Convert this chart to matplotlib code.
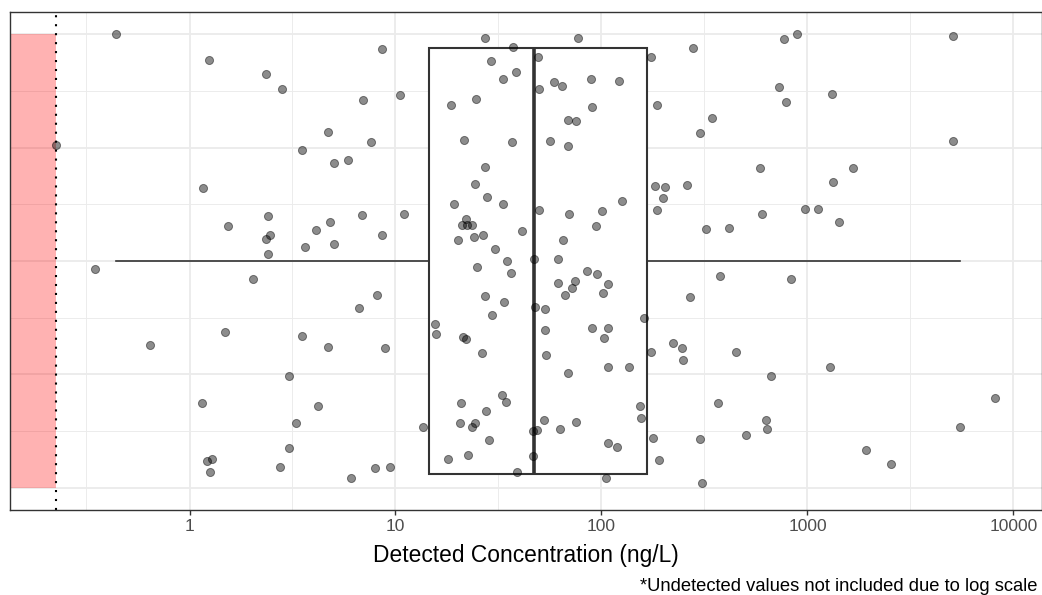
import matplotlib
matplotlib.use("Agg")
import matplotlib.pyplot as plt
from matplotlib.ticker import FixedLocator, NullFormatter
from matplotlib.patches import Rectangle

plt.rcParams['font.family'] = ['Liberation Sans', 'DejaVu Sans']

# ---- data -------------------------------------------------------------
# detected concentrations (ng/L)
concentration = [
    0.44, 0.225, 1.24, 2.35, 2.80, 4.70, 3.52, 5.05, 5.88, 1.16,
    2.41, 1.53, 4.79, 4.13, 2.47, 2.36, 3.62, 5.05, 2.40,
    0.347, 2.04, 1.49, 0.645, 3.53, 4.72, 3.03, 1.15, 4.21, 3.30,
    3.03, 1.28, 1.21, 1.26, 2.75, 6.1,
    8.60, 27.2, 37.1, 76.7, 277, 29.2, 33.3, 38.5, 49.0, 58.6,
    64.5, 89.2, 121, 173, 49.9, 6.98, 10.5, 18.5, 24.7, 89.6,
    187, 69.0, 75.0, 7.58, 21.4, 36.9, 56.4, 68.5, 301, 27.2,
    24.3, 27.9, 33.4, 19.3, 182, 203, 259, 198, 185, 49.6,
    69.8, 101, 126, 6.85, 11.0, 8.60, 22.0, 21.0, 22.2, 23.6,
    20.2, 24.0, 26.6, 41.3, 30.4, 93.7, 65.3, 34.9, 47.0, 61.3,
    24.9, 36.5, 61.3, 66.3, 71.7, 74.6, 84.8, 95.4, 107, 102,
    268, 6.63, 8.10, 27.3, 33.5, 29.3, 47.7, 53.2, 15.5, 15.7,
    21.3, 22.1, 26.4, 53.2, 53.6, 90.2, 107, 103, 160, 173,
    223, 245, 248, 8.86, 68.5, 108, 136, 20.8, 32.8, 34.3,
    27.5, 20.6, 24.4, 23.6, 28.3, 13.6, 46.4, 48.5, 52.6, 63.1,
    75.4, 153, 156, 108, 119, 178, 191, 18.0, 22.4, 38.8,
    46.4, 105, 7.98, 9.44, 302, 306,
    767, 886, 5100, 727, 784, 1320, 345, 5100, 590, 1660,
    1330, 599, 969, 1130, 1430, 323, 417,
    375, 834, 448, 1280, 663, 369, 8130, 5500, 629, 636,
    503, 1920, 2540,
]
# vertical jitter offsets of the points
jitter = [
    1.00, 0.51, 0.885, 0.824, 0.758, 0.570, 0.489, 0.430, 0.445, 0.320,
    0.197, 0.156, 0.172, 0.138, 0.113, 0.096, 0.060, 0.076, 0.031,
    -0.037, -0.079, -0.311, -0.371, -0.330, -0.379, -0.507, -0.626, -0.637, -0.715,
    -0.822, -0.872, -0.882, -0.928, -0.907, -0.957,
    0.935, 0.984, 0.944, 0.984, 0.940, 0.881, 0.800, 0.831, 0.899, 0.790,
    0.771, 0.802, 0.792, 0.900, 0.759, 0.711, 0.731, 0.686, 0.715, 0.680,
    0.686, 0.621, 0.615, 0.526, 0.533, 0.524, 0.530, 0.508, 0.563, 0.413,
    0.338, 0.282, 0.250, 0.250, 0.330, 0.325, 0.336, 0.278, 0.226, 0.226,
    0.207, 0.222, 0.264, 0.203, 0.208, 0.113, 0.185, 0.157, 0.157, 0.157,
    0.091, 0.104, 0.115, 0.131, 0.054, 0.154, 0.093, 0.001, 0.009, 0.007,
    -0.028, -0.053, -0.097, -0.150, -0.118, -0.087, -0.045, -0.056, -0.101, -0.140,
    -0.159, -0.206, -0.150, -0.154, -0.181, -0.238, -0.203, -0.213, -0.279, -0.322,
    -0.333, -0.345, -0.404, -0.305, -0.413, -0.296, -0.296, -0.341, -0.252, -0.401,
    -0.360, -0.385, -0.435, -0.385, -0.493, -0.467, -0.467, -0.627, -0.592, -0.620,
    -0.662, -0.712, -0.712, -0.730, -0.787, -0.730, -0.749, -0.744, -0.700, -0.741,
    -0.711, -0.637, -0.690, -0.800, -0.819, -0.778, -0.878, -0.874, -0.856, -0.931,
    -0.859, -0.957, -0.911, -0.906, -0.784, -0.977,
    0.977, 1.000, 0.993, 0.767, 0.699, 0.737, 0.629, 0.530, 0.411, 0.411,
    0.348, 0.207, 0.228, 0.228, 0.172, 0.140, 0.147,
    -0.066, -0.078, -0.400, -0.467, -0.508, -0.627, -0.605, -0.733, -0.699, -0.740,
    -0.765, -0.833, -0.894,
]

# boxplot summary (ng/L)
box_q1 = 14.5
box_median = 46.9
box_q3 = 167
whisker_low = 0.44
whisker_high = 5500

detection_limit = 0.225

x_ticks = [1, 10, 100, 1000, 10000]
x_tick_labels = ["1", "10", "100", "1000", "10000"]
x_minor = [0.316, 3.16, 31.6, 316, 3160]

x_label = "Detected Concentration (ng/L)"
caption = "*Undetected values not included due to log scale"

# ---- figure -----------------------------------------------------------
fig = plt.figure(figsize=(10.42, 5.95), dpi=100)
ax = fig.add_axes([9.5 / 1042, 85 / 595, 1032.2 / 1042, 498 / 595])

ax.set_xscale('log')
ax.set_xlim(0.1337, 13710)
ax.set_ylim(-1.097, 1.097)

# grid
ax.set_axisbelow(True)
ax.xaxis.set_major_locator(FixedLocator(x_ticks))
ax.set_xticklabels(x_tick_labels)
ax.xaxis.set_minor_locator(FixedLocator(x_minor))
ax.xaxis.set_minor_formatter(NullFormatter())
ax.yaxis.set_major_locator(FixedLocator([-1, -0.5, 0, 0.5, 1]))
ax.yaxis.set_minor_locator(FixedLocator([-0.75, -0.25, 0.25, 0.75]))
ax.grid(True, which='major', color='#EBEBEB', linewidth=1.3)
ax.grid(True, which='minor', color='#EBEBEB', linewidth=0.65)

ax.tick_params(axis='x', which='major', length=3.6, width=1.0, color='#333333',
               labelsize=12.5, labelcolor='#4D4D4D', pad=3)
ax.tick_params(axis='x', which='minor', length=0)
ax.tick_params(axis='y', which='both', length=0, labelleft=False)

for s in ax.spines.values():
    s.set_color('#333333')
    s.set_linewidth(1.0)

# undetected region
xmin = ax.get_xlim()[0]
ax.add_patch(Rectangle((xmin, -1), detection_limit - xmin, 2,
                       facecolor='red', alpha=0.3, edgecolor='none', zorder=1))

# boxplot
stats = [dict(med=box_median, q1=box_q1, q3=box_q3,
              whislo=whisker_low, whishi=whisker_high, fliers=[])]
ax.bxp(stats, positions=[0], widths=[1.875], orientation='horizontal',
       showcaps=False, showfliers=False, patch_artist=True,
       boxprops=dict(facecolor='white', edgecolor='#333333', linewidth=1.5),
       medianprops=dict(color='#333333', linewidth=2.6, solid_capstyle='butt'),
       whiskerprops=dict(color='#333333', linewidth=1.2),
       zorder=2, manage_ticks=False)

# detection limit line
ax.axvline(detection_limit, color='black', linewidth=1.5,
           linestyle=(0, (1, 3.3)), zorder=2.5)

# jittered points
ax.scatter(concentration, jitter, s=34, facecolor='black', edgecolor='black',
           linewidths=0.7, alpha=0.45, zorder=3)

# labels
fig.text((9.5 + 1041.7) / 2 / 1042, 1 - 562 / 595, x_label, ha='center',
         va='baseline', fontsize=16.4, color='black')
fig.text(1038 / 1042, 1 - 591 / 595, caption, ha='right', va='baseline',
         fontsize=13.2, color='black')

fig.savefig('out.png', dpi=100)
